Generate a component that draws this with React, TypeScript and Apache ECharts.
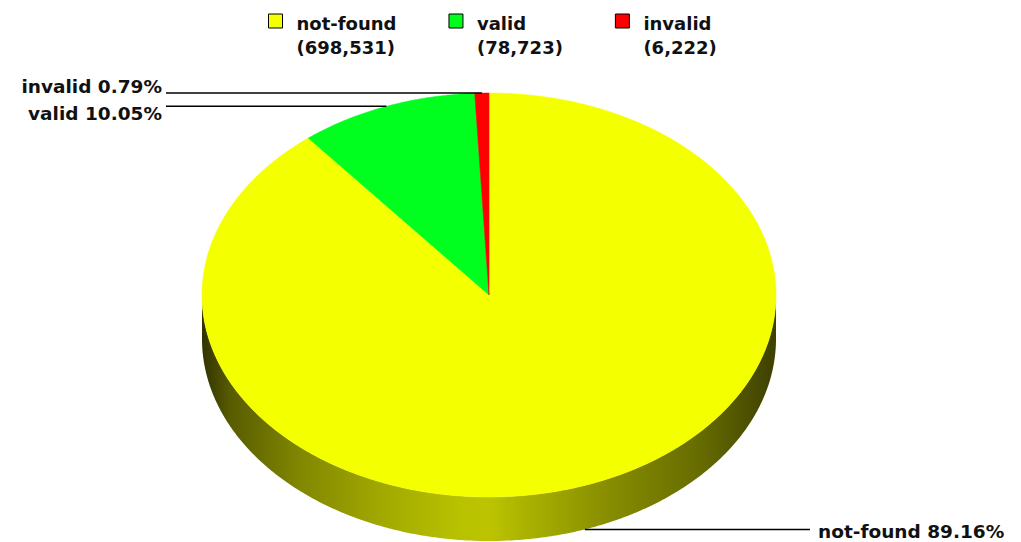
import React, { useEffect, useRef } from "react";
import * as echarts from "echarts";

const categories = ["not-found", "valid", "invalid"];
const counts = [698531, 78723, 6222];
const colors = ["#f4ff00", "#00ff1e", "#ff0000"];

// layout constants (pixels)
const CX = 489;
const CY = 295;
const RX = 287;
const RY = 202;
const DEPTH = 44;
const LEFT_TEXT_X = 162;
const LEFT_LINE_X = 166;
const RIGHT_LINE_X = 810;
const RIGHT_TEXT_X = 818;
const LABEL_SHIFT = [2, 7, -7];
const FONT = "'DejaVu Sans', sans-serif";

const total = counts.reduce((s, v) => s + v, 0);
const cumulative = counts.map((_, i) => counts.slice(0, i).reduce((s, v) => s + v, 0));

const SIDE_SHADE: [number, number][] = [
  [0, 0.2],
  [0.05, 0.36],
  [0.17, 0.53],
  [0.31, 0.66],
  [0.45, 0.76],
  [0.5, 0.77],
  [0.56, 0.7],
  [0.7, 0.56],
  [0.87, 0.42],
  [1, 0.25],
];

function hexToRgb(hex: string) {
  const h = hex.replace("#", "");
  return [0, 2, 4].map((k) => parseInt(h.substr(k, 2), 16));
}

function shade(hex: string, f: number) {
  const [r, g, b] = hexToRgb(hex);
  return `rgb(${Math.round(r * f)},${Math.round(g * f)},${Math.round(b * f)})`;
}

function pt(theta: number, dy = 0): number[] {
  return [CX + RX * Math.sin(theta), CY - RY * Math.cos(theta) + dy];
}

function arc(a: number, b: number, dy = 0): number[][] {
  const n = Math.max(2, Math.ceil(((b - a) * 180) / Math.PI / 0.5));
  const out: number[][] = [];
  for (let k = 0; k <= n; k++) out.push(pt(a + ((b - a) * k) / n, dy));
  return out;
}

export default function App() {
  const ref = useRef<HTMLDivElement>(null);

  useEffect(() => {
    if (!ref.current) return;
    const chart = echarts.init(ref.current, undefined, { renderer: "svg" });

    const renderItem = (params: any, api: any) => {
      const i = params.dataIndex;
      const v = api.value(0);
      const start = (cumulative[i] / total) * Math.PI * 2;
      const end = ((cumulative[i] + v) / total) * Math.PI * 2;
      const color = colors[i];
      const children: any[] = [];

      // side wall (front half only)
      const a = Math.max(start, Math.PI / 2);
      const b = Math.min(end, (Math.PI * 3) / 2);
      if (a < b) {
        const pts = arc(a, b).concat(arc(a, b, DEPTH).reverse());
        children.push({
          type: "polygon",
          shape: { points: pts },
          style: {
            fill: {
              type: "linear",
              x: CX - RX,
              y: 0,
              x2: CX + RX,
              y2: 0,
              global: true,
              colorStops: SIDE_SHADE.map(([o, f]) => ({ offset: o, color: shade(color, f) })),
            },
            stroke: null,
          },
        });
      }

      // top face
      children.push({
        type: "polygon",
        shape: { points: [[CX, CY]].concat(arc(start, end)) },
        style: { fill: color, stroke: color, lineWidth: 0.5 },
      });

      // label + leader line
      const mid = (start + end) / 2;
      const front = Math.cos(mid) < 0;
      const [ax, ay] = pt(mid, front ? DEPTH : 0);
      const right = Math.sin(mid) >= 0;
      const pct = ((v / total) * 100).toFixed(2);
      children.push({
        type: "polyline",
        shape: { points: right ? [[ax, ay], [RIGHT_LINE_X, ay]] : [[LEFT_LINE_X, ay], [ax, ay]] },
        style: { stroke: "#000", lineWidth: 1.5, fill: null },
      });
      children.push({
        type: "text",
        x: right ? RIGHT_TEXT_X : LEFT_TEXT_X,
        y: ay + LABEL_SHIFT[i],
        style: {
          text: `${categories[i]} ${pct}%`,
          fill: "#111",
          font: `bold 18.5px ${FONT}`,
          align: right ? "left" : "right",
          verticalAlign: "middle",
        },
      });

      return { type: "group", children };
    };

    chart.setOption({
      animation: false,
      backgroundColor: "#fff",
      legend: {
        data: categories,
        left: 268,
        top: -12,
        padding: 0,
        itemGap: 52,
        itemWidth: 14,
        itemHeight: 14,
        selectedMode: false,
        icon: "rect",
        itemStyle: { borderColor: "#000", borderWidth: 1 },
        formatter: (name: string) => {
          const idx = categories.indexOf(name);
          return `{e| }\n{n|${name}}\n{n|(${counts[idx].toLocaleString("en-US")})}`;
        },
        textStyle: {
          fontFamily: FONT,
          fontWeight: "bold",
          fontSize: 18,
          color: "#111",
          padding: [0, 0, 0, 9],
          rich: {
            e: { lineHeight: 28, fontSize: 18 },
            n: { lineHeight: 24, fontSize: 18, fontWeight: "bold", fontFamily: FONT, color: "#111" },
          },
        },
      },
      series: [
        {
          type: "pie",
          name: "legend",
          center: [-100, -100],
          radius: 1,
          silent: true,
          label: { show: false },
          labelLine: { show: false },
          data: categories.map((c, i) => ({ name: c, value: counts[i], itemStyle: { color: colors[i] } })),
        },
        {
          type: "custom",
          coordinateSystem: "none",
          silent: true,
          renderItem,
          data: counts.map((v, i) => ({ name: categories[i], value: [v] })),
        },
      ],
    });

    return () => chart.dispose();
  }, []);

  return (
    <div
      ref={ref}
      style={{ position: "absolute", left: 0, top: 0, width: 1021, height: 542 }}
    />
  );
}
